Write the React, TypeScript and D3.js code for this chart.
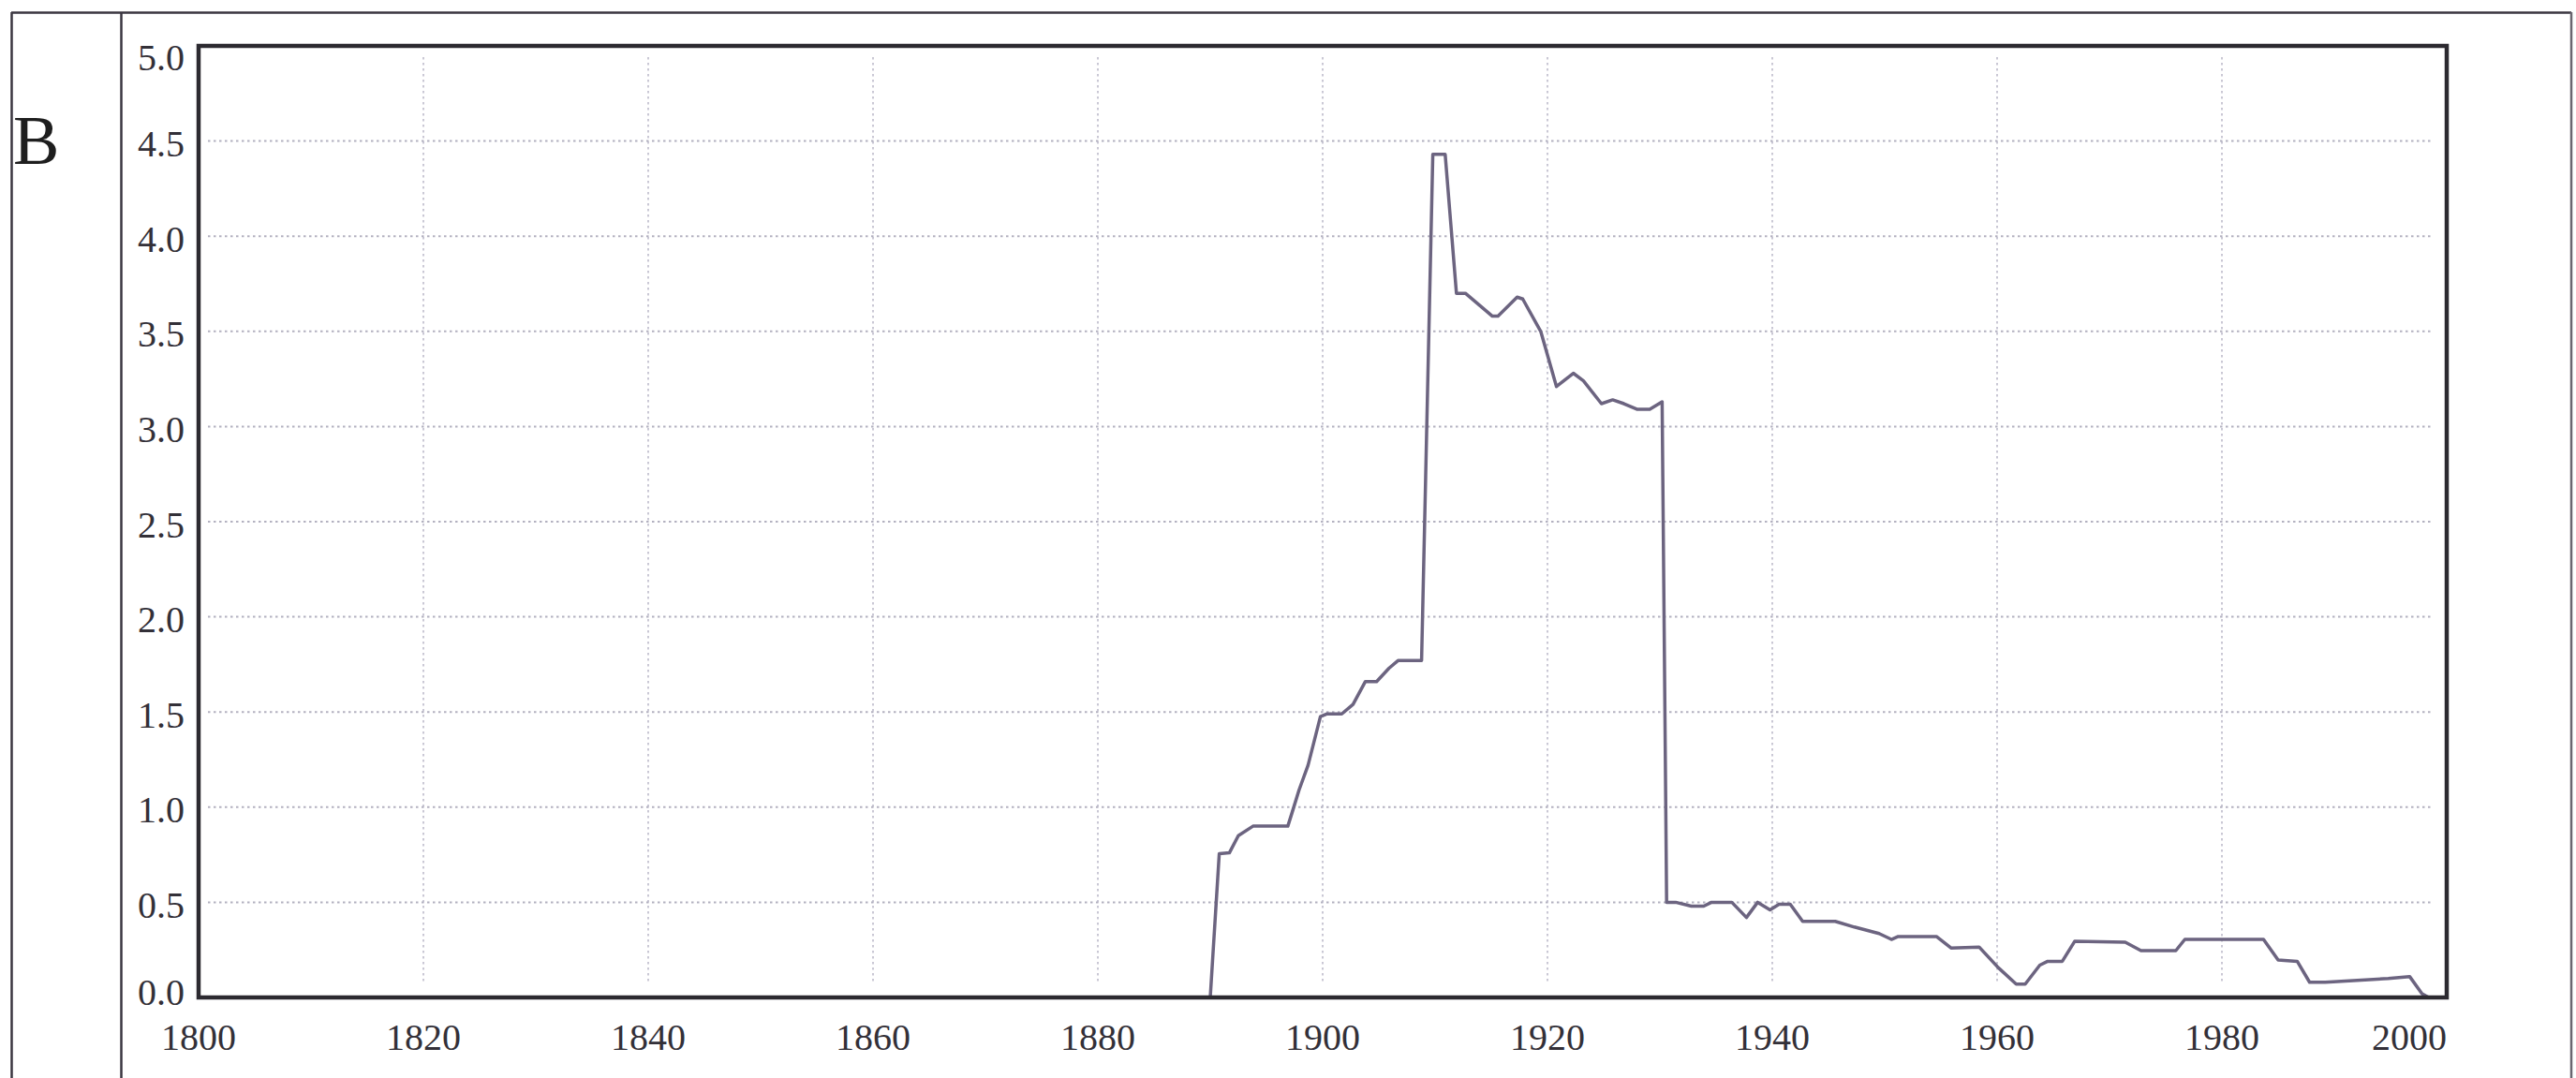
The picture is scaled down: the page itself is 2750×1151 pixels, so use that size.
import React from "react";
import * as d3 from "d3";

const years: number[] = [
  1890.0, 1890.8, 1891.7, 1892.5, 1893.8, 1896.9, 1897.3, 1897.9, 1898.7, 1899.8,
  1900.4, 1901.7, 1902.7, 1903.8, 1904.8, 1905.9, 1906.7, 1908.8, 1909.8, 1910.9,
  1911.9, 1912.7, 1915.1, 1915.6, 1917.3, 1917.8, 1919.4, 1920.8, 1922.3, 1923.2,
  1924.8, 1925.8, 1926.8, 1928.0, 1929.1, 1930.2, 1930.6, 1931.4, 1932.8, 1933.9,
  1934.6, 1936.4, 1937.7, 1938.7, 1939.8, 1940.6, 1941.6, 1942.7, 1945.6, 1947.3,
  1949.5, 1950.6, 1951.2, 1954.6, 1955.9, 1958.4, 1960.1, 1961.7, 1962.5, 1963.8,
  1964.5, 1965.8, 1966.9, 1971.4, 1972.8, 1975.9, 1976.7, 1983.7, 1985.0, 1986.7,
  1987.8, 1989.2, 1994.8, 1996.7, 1997.8, 1998.4, 2000.0,
];
const values: number[] = [
  0.0, 0.755, 0.76, 0.85, 0.9, 0.9, 0.975, 1.09, 1.22, 1.476,
  1.49, 1.49, 1.54, 1.66, 1.66, 1.73, 1.77, 1.77, 4.43, 4.43,
  3.7, 3.7, 3.58, 3.58, 3.68, 3.67, 3.5, 3.21, 3.28, 3.24,
  3.12, 3.14, 3.12, 3.09, 3.09, 3.13, 0.5, 0.5, 0.48, 0.48,
  0.5, 0.5, 0.42, 0.5, 0.46, 0.49, 0.49, 0.4, 0.4, 0.37,
  0.336, 0.305, 0.32, 0.32, 0.26, 0.265, 0.157, 0.07, 0.07, 0.17,
  0.19, 0.19, 0.295, 0.29, 0.246, 0.246, 0.305, 0.305, 0.197, 0.19,
  0.08, 0.08, 0.1, 0.11, 0.02, 0.0, 0.0,
];
const xTicks: number[] = [1800, 1820, 1840, 1860, 1880, 1900, 1920, 1940, 1960, 1980, 2000];
const yTicks: number[] = [0, 0.5, 1, 1.5, 2, 2.5, 3, 3.5, 4, 4.5, 5];
const panelLabel = "B";

const W = 2750;
const H = 1151;
const L = 212, R = 2612, T = 49, B = 1065;
const FONT = "'Liberation Serif', 'Times New Roman', serif";

export default function App() {
  const x = d3.scaleLinear().domain([1800, 2000]).range([L, R]);
  const y = d3.scaleLinear().domain([0, 5]).range([B, T]);
  const pts = years.map((yr, i) => [yr, values[i]] as [number, number]);
  const line = d3
    .line<[number, number]>()
    .x((d) => x(d[0]))
    .y((d) => y(d[1]));

  const yLabelY = (v: number) => {
    let c = y(v) + 3;
    if (c < 61) c = 61;
    if (c > 1059) c = 1059;
    return c;
  };

  return (
    <svg
      width={W}
      height={H}
      style={{ position: "absolute", left: 0, top: 0, background: "#fff" }}
    >
      <rect x={0} y={0} width={W} height={H} fill="#ffffff" />
      {/* outer table frame */}
      <line x1={12} y1={13.5} x2={2745} y2={13.5} stroke="#3a3640" strokeWidth={2.5} />
      <line x1={12.5} y1={13} x2={12.5} y2={H} stroke="#3a3640" strokeWidth={2.5} />
      <line x1={129.5} y1={13} x2={129.5} y2={H} stroke="#3a3640" strokeWidth={2.5} />
      <line x1={2745} y1={13} x2={2745} y2={H} stroke="#6a6670" strokeWidth={2.5} />
      <text x={14} y={175} fontFamily={FONT} fontSize={74} fill="#1e1e1e">
        {panelLabel}
      </text>

      {/* gridlines */}
      {yTicks
        .filter((v) => v > 0 && v < 5)
        .map((v) => (
          <line
            key={"gy" + v}
            x1={L + 10}
            x2={R - 14}
            y1={y(v)}
            y2={y(v)}
            stroke="#9a98ac"
            strokeWidth={2}
            strokeDasharray="2.5 3.5"
            opacity={0.75}
          />
        ))}
      {xTicks
        .filter((t) => t > 1800 && t < 2000)
        .map((t) => (
          <line
            key={"gx" + t}
            x1={x(t)}
            x2={x(t)}
            y1={T + 12}
            y2={B - 14}
            stroke="#b4b2c4"
            strokeWidth={2}
            strokeDasharray="2.5 3.5"
            opacity={0.7}
          />
        ))}

      {/* data line */}
      <path
        d={line(pts) || ""}
        fill="none"
        stroke="#6c6480"
        strokeWidth={3.5}
        strokeLinejoin="round"
      />

      {/* plot frame */}
      <rect
        x={L}
        y={T}
        width={R - L}
        height={B - T}
        fill="none"
        stroke="#2c2a30"
        strokeWidth={4.5}
      />

      {/* y tick labels */}
      {yTicks.map((v) => (
        <text
          key={"yl" + v}
          x={197}
          y={yLabelY(v)}
          textAnchor="end"
          dominantBaseline="central"
          fontFamily={FONT}
          fontSize={40}
          fill="#333038"
        >
          {v.toFixed(1)}
        </text>
      ))}

      {/* x tick labels */}
      {xTicks.map((t) => (
        <text
          key={"xl" + t}
          x={t === 2000 ? R : x(t)}
          y={1121}
          textAnchor={t === 2000 ? "end" : "middle"}
          fontFamily={FONT}
          fontSize={40}
          fill="#333038"
        >
          {t}
        </text>
      ))}
    </svg>
  );
}
